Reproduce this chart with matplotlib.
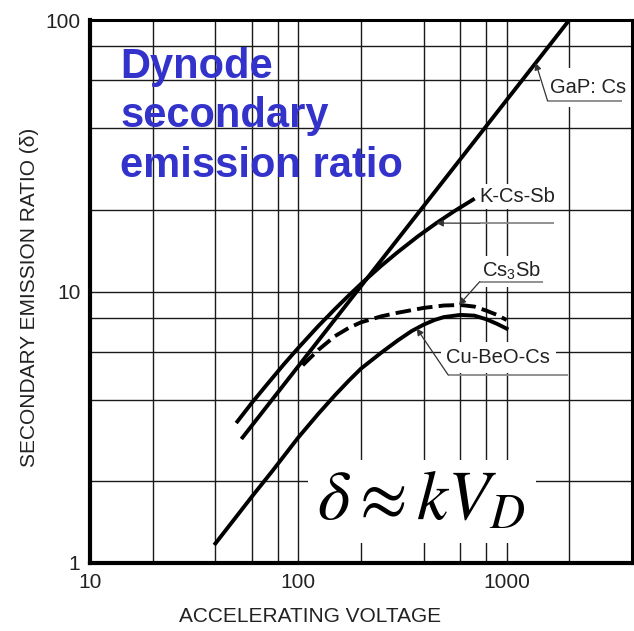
import numpy as np
import matplotlib
matplotlib.use('Agg')
import matplotlib.pyplot as plt
from matplotlib.ticker import NullFormatter

plt.rcParams['font.family'] = ['Liberation Sans', 'DejaVu Sans']
plt.rcParams['mathtext.fontset'] = 'custom'
plt.rcParams['mathtext.rm'] = 'Liberation Sans'
plt.rcParams['mathtext.it'] = 'Liberation Sans:italic'
plt.rcParams['mathtext.bf'] = 'Liberation Sans:bold'

# secondary emission ratio vs accelerating voltage, per dynode material
gap_v = [54, 2000]
gap_d = [2.9, 100]

kcssb_v = [51, 60, 70, 85, 100, 125, 150, 175, 200, 250, 300, 375, 460, 560, 690]
kcssb_d = [3.32, 3.9, 4.5, 5.38, 6.2, 7.47, 8.62, 9.68, 10.67, 12.43, 13.96, 15.96, 17.86, 19.75, 21.8]

cs3sb_v = [105, 125, 150, 175, 200, 250, 300, 400, 500, 600, 700, 800, 900, 1000]
cs3sb_d = [5.35, 6.1, 6.85, 7.35, 7.7, 8.1, 8.35, 8.7, 8.88, 8.92, 8.8, 8.5, 8.2, 7.85]

cubeo_v = [40, 50, 60, 75, 100, 125, 150, 175, 200, 250, 300, 350, 400, 450, 500,
           600, 700, 800, 900, 1000]
cubeo_d = [1.18, 1.47, 1.76, 2.18, 2.9, 3.55, 4.15, 4.7, 5.2, 5.95, 6.6, 7.15, 7.55, 7.85, 8.05,
           8.2, 8.15, 7.9, 7.6, 7.3]

names = ['GaP: Cs', 'K-Cs-Sb', 'Cs$_3$Sb', 'Cu-BeO-Cs']

x_ticks = [10, 100, 1000]
y_ticks = [1, 10, 100]
x_grid = [20, 40, 60, 80, 100, 200, 400, 600, 800, 1000, 2000]
y_grid = [2, 4, 6, 8, 10, 20, 40, 60, 80]


def on_curve(v, xs, ys):
    # point on a curve at voltage v, taken along the log-log segments
    return 10 ** np.interp(np.log10(v), np.log10(xs), np.log10(ys))


fig = plt.figure(figsize=(6.34, 6.31), dpi=100)
ax = fig.add_axes([90 / 634, 1 - 563 / 631, 542 / 634, 543 / 631])
ax.set_xscale('log')
ax.set_yscale('log')
ax.set_xlim(10, 4000)
ax.set_ylim(1, 100)

ax.set_xticks(x_ticks)
ax.set_xticklabels([str(t) for t in x_ticks])
ax.set_yticks(y_ticks)
ax.set_yticklabels([str(t) for t in y_ticks])
ax.set_xticks(x_grid, minor=True)
ax.set_yticks(y_grid, minor=True)
ax.xaxis.set_minor_formatter(NullFormatter())
ax.yaxis.set_minor_formatter(NullFormatter())
ax.tick_params(which='both', length=0, pad=7, labelsize=15, labelcolor='#222222')
ax.set_axisbelow(True)
ax.grid(which='both', color='#1a1a1a', lw=1.0)

for side in ['left', 'bottom']:
    ax.spines[side].set_linewidth(3.0)
for side in ['top', 'right']:
    ax.spines[side].set_linewidth(2.2)
for sp in ax.spines.values():
    sp.set_zorder(10)

ax.set_xlabel('ACCELERATING VOLTAGE', fontsize=15, color='#222222')
ax.xaxis.set_label_coords(0.406, -0.081)
ax.set_ylabel('SECONDARY EMISSION RATIO (δ)', fontsize=15, color='#222222')
ax.yaxis.set_label_coords(-0.094, 0.489)

lw = 2.8
ax.plot(gap_v, gap_d, color='black', lw=lw, zorder=3)
ax.plot(kcssb_v, kcssb_d, color='black', lw=lw, zorder=3)
ax.plot(cs3sb_v, cs3sb_d, color='black', lw=lw, dashes=(4, 1.6), zorder=3)
ax.plot(cubeo_v, cubeo_d, color='black', lw=lw, zorder=3)

# callouts: arrow tip voltage, text corner, underline span, box padding
curves = [(gap_v, gap_d), (kcssb_v, kcssb_d), (cs3sb_v, cs3sb_d), (cubeo_v, cubeo_d)]
tips = [1380, 460, 590, 370]
text_at = [(1610, 53.8), (743, 21.4), (759, 11.3), (514, 5.45)]
lines_at = [(1574, 3565, 50.3), (743, 1698, 17.85), (743, 1489, 10.87), (524, 1968, 4.93)]
pads = [7, 2, 3, 4]

for name, (xs, ys), tv, (tx, ty), (u0, u1, uy), pd in zip(names, curves, tips, text_at, lines_at, pads):
    ax.text(tx, ty, name, fontsize=14.5, color='#222222', va='baseline', ha='left', zorder=2,
            bbox=dict(facecolor='white', edgecolor='none', pad=pd))
    ax.plot([u0, u1], [uy, uy], color='#888888', lw=1.3, zorder=4, solid_capstyle='butt')
    ax.annotate('', xy=(tv, on_curve(tv, xs, ys)), xytext=(u0, uy), zorder=4,
                arrowprops=dict(arrowstyle='-|>', color='#333333', lw=0.9,
                                mutation_scale=10, shrinkA=0, shrinkB=0))

# baseline of the last line sits at the given height
ax.text(0.0554, 0.7114, 'Dynode\nsecondary\nemission ratio', transform=ax.transAxes,
        fontsize=30, fontweight='bold', color='#3333CC', va='baseline', ha='left',
        linespacing=1.3, zorder=5)

ax.text(0.6125, 0.1133, r'$\delta \approx kV_D$', transform=ax.transAxes, fontsize=50,
        math_fontfamily='stix', ha='center', va='center', zorder=5,
        bbox=dict(facecolor='white', edgecolor='none', pad=7))

fig.savefig('out.png', dpi=100)
